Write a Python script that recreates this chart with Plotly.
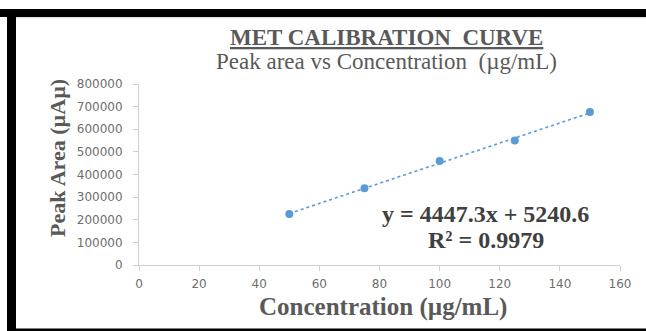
import plotly.graph_objects as go

# Data
concentration = [50, 75, 100, 125, 150]
peak_area = [225000, 339000, 460000, 550000, 676000]
trend_coeffs = [4447.3, 5240.6]  # slope, intercept (as displayed)
trend_x = [50, 150]
x_ticks = [0, 20, 40, 60, 80, 100, 120, 140, 160]
y_ticks = [0, 100000, 200000, 300000, 400000, 500000, 600000, 700000, 800000]

trend_y = [trend_coeffs[0] * v + trend_coeffs[1] for v in trend_x]

W, H = 646, 331
L, R, T, B = 139, 26, 84, 66
pw, ph = W - L - R, H - T - B

def px(x):
    return (x - L) / pw

def py(y):
    return (H - B - y) / ph

BLUE = "#5b9bd5"
AX = "#d0d0d0"
TICK_FONT = dict(family="DejaVu Sans", size=12, color="#6e6e6e")
SERIF = "Liberation Serif"

fig = go.Figure()
fig.add_trace(go.Scatter(x=trend_x, y=trend_y, mode="lines",
                         line=dict(color=BLUE, width=1.6, dash="dot"),
                         hoverinfo="skip", showlegend=False))
fig.add_trace(go.Scatter(x=concentration, y=peak_area, mode="markers",
                         marker=dict(color=BLUE, size=8),
                         showlegend=False))

fig.update_layout(
    width=W, height=H,
    margin=dict(l=L, r=R, t=T, b=B),
    paper_bgcolor="white", plot_bgcolor="white",
    xaxis=dict(range=[0, 160], tickvals=x_ticks, ticktext=[str(v) for v in x_ticks],
               showgrid=False, zeroline=False, showline=True, linecolor=AX, linewidth=1,
               ticks="outside", ticklen=5, tickcolor=AX, tickfont=TICK_FONT,
               ticklabelstandoff=3),
    yaxis=dict(range=[0, 800000], tickvals=y_ticks, ticktext=[str(v) for v in y_ticks],
               showgrid=False, zeroline=False, showline=True, linecolor=AX, linewidth=1,
               ticks="outside", ticklen=5, tickcolor=AX, tickfont=TICK_FONT,
               ticklabelstandoff=8),
    annotations=[
        dict(text="<b><span style='text-decoration:underline'>MET CALIBRATION  CURVE</span></b>",
             xref="paper", yref="paper", x=px(386), y=py(37), showarrow=False,
             font=dict(family=SERIF, size=23, color="#595959"), xanchor="center", yanchor="middle"),
        dict(text="Peak area vs Concentration  (µg/mL)",
             xref="paper", yref="paper", x=px(386), y=py(61), showarrow=False,
             font=dict(family=SERIF, size=23, color="#595959"), xanchor="center", yanchor="middle"),
        dict(text="<b>Peak Area (µAµ)</b>",
             xref="paper", yref="paper", x=px(57), y=py(158), showarrow=False, textangle=-90,
             font=dict(family=SERIF, size=22, color="#595959"), xanchor="center", yanchor="middle"),
        dict(text="<b>Concentration (µg/mL)</b>",
             xref="paper", yref="paper", x=px(383), y=py(307), showarrow=False,
             font=dict(family=SERIF, size=25, color="#595959"), xanchor="center", yanchor="middle"),
        dict(text="<b>y = 4447.3x + 5240.6</b>",
             xref="paper", yref="paper", x=px(485), y=py(214), showarrow=False,
             font=dict(family=SERIF, size=24, color="#404040"), xanchor="center", yanchor="middle"),
        dict(text="<b>R² = 0.9979</b>",
             xref="paper", yref="paper", x=px(486), y=py(240), showarrow=False,
             font=dict(family=SERIF, size=24, color="#404040"), xanchor="center", yanchor="middle"),
    ],
    shapes=[
        dict(type="rect", xref="paper", yref="paper", x0=px(-5), x1=px(W + 5), y0=py(17), y1=py(9),
             fillcolor="black", line=dict(width=0), layer="above"),
        dict(type="line", xref="paper", yref="paper", x0=px(16), x1=px(W + 5), y0=py(17.8), y1=py(17.8),
             line=dict(color="#d8d8d8", width=1), layer="above"),
        dict(type="rect", xref="paper", yref="paper", x0=px(7), x1=px(16), y0=py(H + 5), y1=py(9),
             fillcolor="black", line=dict(width=0), layer="above"),
        dict(type="rect", xref="paper", yref="paper", x0=px(7), x1=px(W + 5), y0=py(H + 5), y1=py(328.5),
             fillcolor="black", line=dict(width=0), layer="above"),
    ],
)

fig.write_html("out.html", config={"displayModeBar": False},
               post_script="document.body.style.margin='0';document.body.style.overflow='hidden';")
